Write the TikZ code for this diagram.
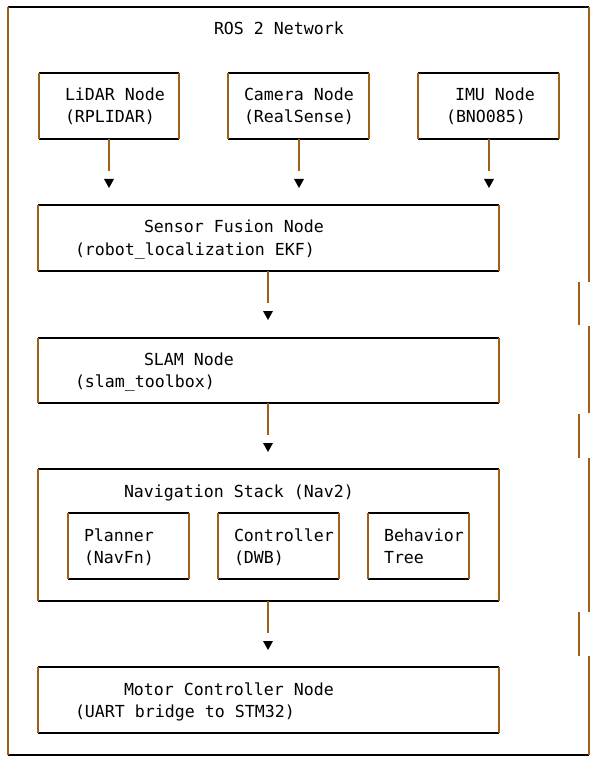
\documentclass[tikz,border=0pt]{standalone}
\usepackage{fontspec}
\usetikzlibrary{calc,fit}
\setmonofont{DejaVu Sans Mono}
\definecolor{brownline}{RGB}{160,95,25}
\begin{document}
\begin{tikzpicture}[x=1pt,y=-1pt,
  box/.style={rectangle,inner sep=0pt,outer sep=0pt},
  txt/.style={anchor=base west,inner sep=0pt,outer sep=0pt,font=\ttfamily\fontsize{16.6}{22}\selectfont},
  hl/.style={draw=black,line width=1.5pt},
  vl/.style={draw=brownline,line width=1.5pt},
  tip/.style={fill=black,draw=none}]
\useasboundingbox (0,0) rectangle (591,759);
\fill[white] (0,0) rectangle (591,759);
% outer frame
\coordinate (otl) at (8,7);
\coordinate (otr) at (589,7);
\coordinate (obl) at (8,755);
\coordinate (obr) at (589,755);
\draw[hl] (otl) -- (otr);
\draw[hl] (obl) -- (obr);
\draw[vl] (otl) -- (obl);
\draw[vl] (otr) -- (589,282);
\draw[vl] (579,282) -- (579,325);
\draw[vl] (589,326) -- (589,413);
\draw[vl] (579,414) -- (579,458);
\draw[vl] (589,458) -- (589,612);
\draw[vl] (579,612) -- (579,656);
\draw[vl] (589,656) -- (obr);
\node[txt] (title) at (214,35) {ROS 2 Network};
% boxes (corner coordinates)
\path (39,73) coordinate (lidarNW) (179,139) coordinate (lidarSE);
\path (228,73) coordinate (cameraNW) (369,139) coordinate (cameraSE);
\path (418,73) coordinate (imuNW) (559,139) coordinate (imuSE);
\path (38,205) coordinate (fusionNW) (499,271) coordinate (fusionSE);
\path (38,338) coordinate (slamNW) (499,403) coordinate (slamSE);
\path (38,469) coordinate (navNW) (499,601) coordinate (navSE);
\path (68,513) coordinate (plannerNW) (189,579) coordinate (plannerSE);
\path (218,513) coordinate (ctrlNW) (339,579) coordinate (ctrlSE);
\path (368,513) coordinate (btNW) (469,579) coordinate (btSE);
\path (38,667) coordinate (motorNW) (499,733) coordinate (motorSE);
\foreach \n in {lidar,camera,imu,fusion,slam,nav,planner,ctrl,bt,motor}{
  \node[box,fit=(\n NW)(\n SE)] (\n) {};
  \draw[hl] (\n NW) -- (\n NW -| \n SE);
  \draw[hl] (\n NW |- \n SE) -- (\n SE);
  \draw[vl] (\n NW) -- (\n NW |- \n SE);
  \draw[vl] (\n NW -| \n SE) -- (\n SE);
}
% texts
\node[txt] (lidarA) at (65,101) {LiDAR Node};
\node[txt] (lidarB) at (65,123) {(RPLIDAR)};
\node[txt] (cameraA) at (244,101) {Camera Node};
\node[txt] (cameraB) at (244,123) {(RealSense)};
\node[txt] (imuA) at (455,101) {IMU Node};
\node[txt] (imuB) at (446,123) {(BNO085)};
\node[txt] (fusionA) at (144,233) {Sensor Fusion Node};
\node[txt] (fusionB) at (75,255) {(robot\_localization EKF)};
\node[txt] (slamA) at (144,365) {SLAM Node};
\node[txt] (slamB) at (75,387) {(slam\_toolbox)};
\node[txt] (navA) at (124,497) {Navigation Stack (Nav2)};
\node[txt] (plannerA) at (84,541.5) {Planner};
\node[txt] (plannerB) at (84,563.5) {(NavFn)};
\node[txt] (ctrlA) at (234,541.5) {Controller};
\node[txt] (ctrlB) at (234,563.5) {(DWB)};
\node[txt] (btA) at (384,541.5) {Behavior};
\node[txt] (btB) at (384,563.5) {Tree};
\node[txt] (motorA) at (124,695) {Motor Controller Node};
\node[txt] (motorB) at (75,717) {(UART bridge to STM32)};
% connectors: stem from box, gap, then arrowhead
\foreach \n/\x in {lidar/109,camera/299,imu/489,fusion/268,slam/268,nav/268}{
  \coordinate (\n S) at (\x,0 |- \n.south);
  \coordinate (\n E) at ($(\n S)+(0,32)$);
  \draw[vl] (\n S) -- (\n E);
  \fill[black] ($(\n E)+(-5,8)$) -- ($(\n E)+(5,8)$) -- ($(\n E)+(0,17)$) -- cycle;
}
\end{tikzpicture}
\end{document}
